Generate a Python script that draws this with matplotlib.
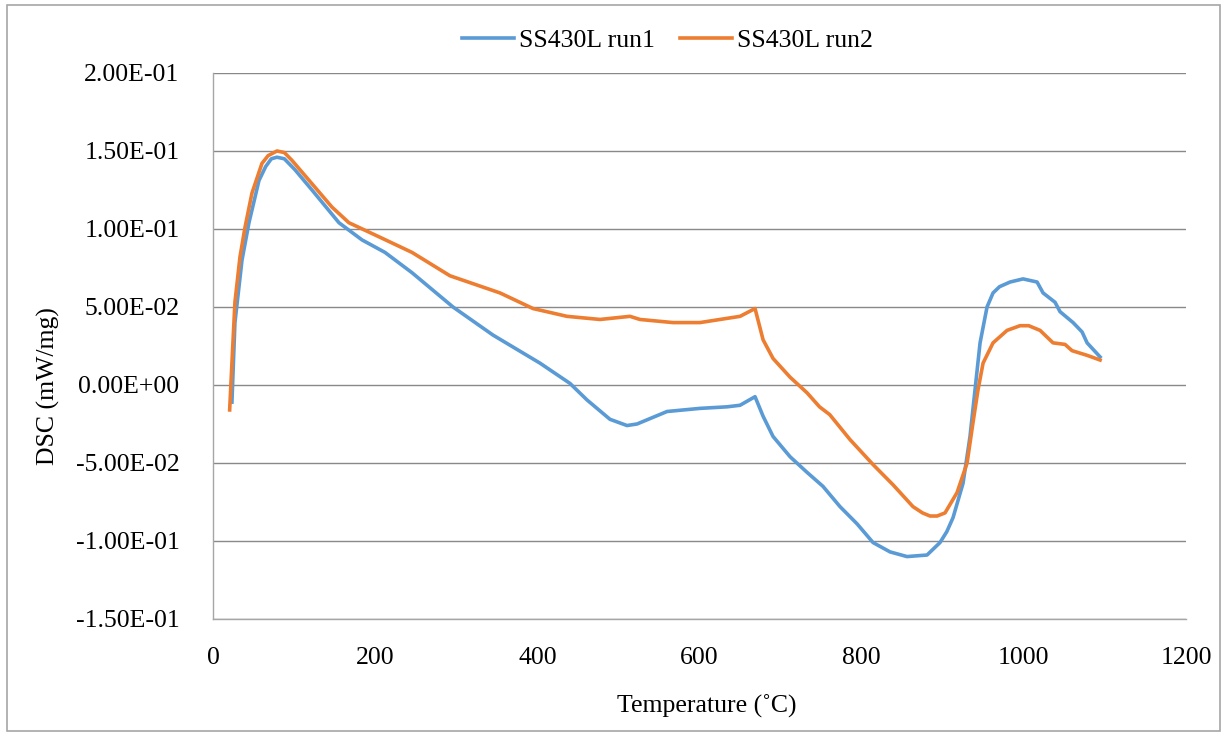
import matplotlib
matplotlib.use("Agg")
import matplotlib.pyplot as plt
from matplotlib.patches import Rectangle
from matplotlib.ticker import FuncFormatter, MultipleLocator

plt.rcParams["font.family"] = ["Liberation Serif", "DejaVu Serif"]

# run1 readings (temperature in C, DSC in mW/mg)
t_run1 = [23.4, 27.1, 35.8, 44.4, 56.7, 65.0, 72.0, 78.9, 88.0, 101.1,
          122.1, 155.4, 183.8, 212.1, 245.4, 296.0, 345.3, 403.3, 440.3, 461.3,
          489.6, 510.6, 523.0, 560.0, 600.6, 634.0, 650.0, 668.5, 678.4, 690.7,
          711.7, 732.6, 752.3, 773.3, 794.3, 814.0, 835.0, 855.9, 880.6, 896.6,
          905.0, 912.7, 925.0, 933.6, 939.8, 946.0, 954.6, 962.0, 970.0, 983.0,
          999.0, 1016.3, 1023.7, 1038.5, 1044.6, 1060.7, 1071.8, 1078.0, 1094.0]
dsc_run1 = [-0.011, 0.040, 0.080, 0.104, 0.131, 0.140, 0.145, 0.146, 0.145, 0.138,
            0.125, 0.104, 0.093, 0.085, 0.072, 0.050, 0.032, 0.014, 0.001, -0.0096,
            -0.022, -0.026, -0.025, -0.017, -0.015, -0.014, -0.013, -0.0075, -0.020, -0.033,
            -0.046, -0.056, -0.065, -0.078, -0.089, -0.101, -0.107, -0.110, -0.109, -0.101,
            -0.094, -0.085, -0.063, -0.033, -0.003, 0.027, 0.050, 0.059, 0.063, 0.066,
            0.068, 0.066, 0.059, 0.053, 0.047, 0.040, 0.034, 0.027, 0.018]

# run2 readings
t_run2 = [20.6, 23.4, 27.1, 33.3, 39.5, 48.1, 60.4, 68.0, 78.9, 88.0,
          97.4, 122.1, 146.8, 167.7, 204.7, 245.4, 292.3, 354.0, 394.7, 436.6,
          477.3, 514.3, 526.6, 567.3, 600.6, 650.0, 668.5, 678.4, 690.7, 711.7,
          732.6, 748.0, 760.6, 785.6, 814.0, 838.7, 863.3, 875.0, 884.3, 893.0,
          902.8, 917.6, 930.0, 937.3, 943.5, 949.7, 962.0, 979.3, 995.3, 1006.0,
          1020.0, 1036.0, 1050.8, 1059.4, 1078.0, 1094.0]
dsc_run2 = [-0.016, 0.014, 0.053, 0.082, 0.101, 0.123, 0.142, 0.147, 0.150, 0.149,
            0.144, 0.129, 0.114, 0.104, 0.095, 0.085, 0.070, 0.059, 0.049, 0.044,
            0.042, 0.0440, 0.042, 0.040, 0.040, 0.044, 0.049, 0.029, 0.017, 0.005,
            -0.005, -0.014, -0.019, -0.035, -0.051, -0.064, -0.078, -0.082, -0.084, -0.084,
            -0.082, -0.069, -0.050, -0.024, -0.003, 0.014, 0.027, 0.035, 0.038, 0.038,
            0.035, 0.027, 0.026, 0.022, 0.019, 0.016]

fig = plt.figure(figsize=(12.26, 7.32), dpi=100)
ax = fig.add_axes([0.1737, 0.1544, 0.7937, 0.7459])

ax.plot(t_run1, dsc_run1, color="#5B9BD5", lw=2.6, label="SS430L run1")
ax.plot(t_run2, dsc_run2, color="#ED7D31", lw=2.6, label="SS430L run2")

ax.set_xlim(0, 1200)
ax.set_ylim(-0.15, 0.2)
ax.xaxis.set_major_locator(MultipleLocator(200))
ax.yaxis.set_major_locator(MultipleLocator(0.05))
ax.yaxis.set_major_formatter(FuncFormatter(lambda v, p: f"{v:.2E}"))
ax.grid(axis="y", color="#898989", lw=1.0)
ax.set_axisbelow(True)
for s in ["top", "right"]:
    ax.spines[s].set_visible(False)
for s in ["left", "bottom"]:
    ax.spines[s].set_color("#a6a6a6")
    ax.spines[s].set_linewidth(1.0)
ax.tick_params(length=0, labelsize=18.5)
ax.tick_params(axis="y", pad=24)
ax.tick_params(axis="x", pad=20)

fig.text(707 / 1226, 1 - 706 / 732, "Temperature (˚C)", fontsize=18.5,
         ha="center", va="center")
fig.text(48 / 1226, 1 - 386 / 732, "DSC (mW/mg)", fontsize=18.5,
         ha="center", va="center", rotation=90)

fig.legend(loc="center", bbox_to_anchor=(0.5445, 0.945), ncol=2, frameon=False,
           fontsize=18.5, handlelength=2.0, handletextpad=0.2, columnspacing=1.0)

fig.patches.append(Rectangle((7 / 1226, 1 / 732), 1213 / 1226, 726 / 732,
                             transform=fig.transFigure, fill=False,
                             edgecolor="#a6a6a6", lw=1.2))

fig.savefig("out.png", dpi=100)
